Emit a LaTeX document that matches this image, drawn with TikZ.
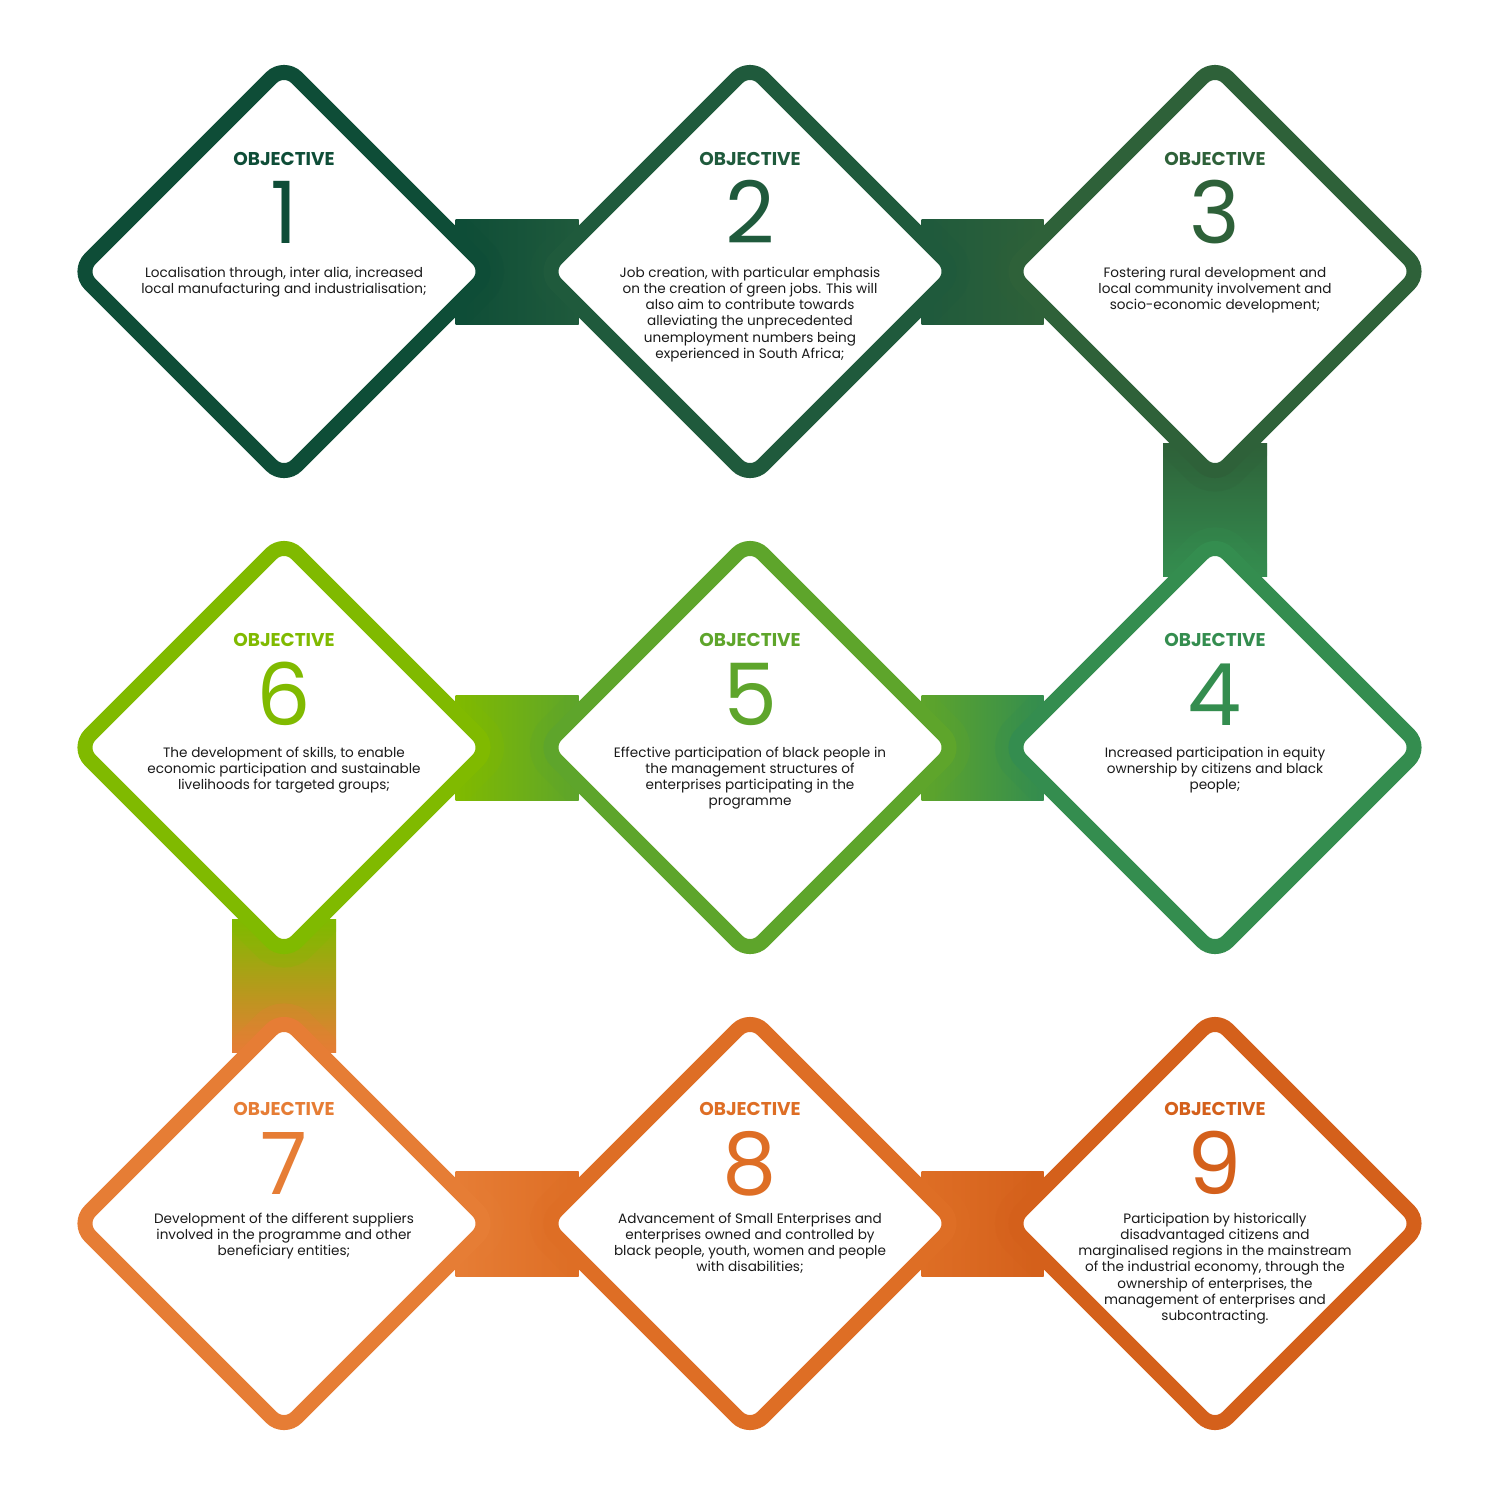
\documentclass[tikz,border=0pt]{standalone}
\usepackage{fontspec}
\setmainfont{Poppins}
\usetikzlibrary{shapes.geometric,backgrounds,calc}
\definecolor{c1}{HTML}{0E4D37}
\definecolor{c2}{HTML}{1F5A3C}
\definecolor{c3}{HTML}{2E6139}
\definecolor{c4}{HTML}{348D4F}
\definecolor{c5}{HTML}{5EA52B}
\definecolor{c6}{HTML}{80BA00}
\definecolor{c7}{HTML}{E67D35}
\definecolor{c8}{HTML}{DE6E25}
\definecolor{c9}{HTML}{D4601B}
\definecolor{txt}{HTML}{1A1A1A}
\tikzset{
  dia/.style={diamond, aspect=1, minimum width=413pt, minimum height=413pt,
    inner sep=0pt, outer sep=0pt, line width=15pt, rounded corners=18pt,
    fill=white, draw=#1},
  objlbl/.style={anchor=base, inner sep=0pt, text=#1,
    font=\bfseries\fontsize{18.5}{20}\selectfont},
  numlbl/.style={anchor=base, inner sep=0pt, text=#1,
    font=\fontsize{86}{90}\selectfont},
  bodylbl/.style={anchor=base, inner sep=0pt, text=txt,
    font=\fontsize{13.6}{16.3}\selectfont},
  glow/.style={draw=#1, line width=42pt, draw opacity=0.28, rounded corners=18pt},
  dpath/.style={insert path={($(#1.center)+(-206.5,0)$) -- ($(#1.center)+(0,-206.5)$)
    -- ($(#1.center)+(206.5,0)$) -- ($(#1.center)+(0,206.5)$) -- cycle}},
}
\newcommand{\bodytext}[1]{\begin{tabular}[t]{@{}c@{}}#1\end{tabular}}
\begin{document}
\begin{tikzpicture}[x=1pt,y=-1pt]
\useasboundingbox (0,0) rectangle (1500,1500);

% diamonds
\node[dia=c1] (d1) at (284,271.5) {};
\node[dia=c2] (d2) at (750,271.5) {};
\node[dia=c3] (d3) at (1215,271.5) {};
\node[dia=c6] (d6) at (284,747.5) {};
\node[dia=c5] (d5) at (750,747.5) {};
\node[dia=c4] (d4) at (1215,747.5) {};
\node[dia=c7] (d7) at (284,1223.5) {};
\node[dia=c8] (d8) at (750,1223.5) {};
\node[dia=c9] (d9) at (1215,1223.5) {};

% connector bars (behind)
\begin{pgfonlayer}{background}
\fill[white] (0,0) rectangle (1500,1500);
\coordinate (b12a) at ($(d1.east)+(-35,-52.5)$);
\coordinate (b12b) at ($(d2.west)+(35,52.5)$);
\coordinate (b23a) at ($(d2.east)+(-35,-52.5)$);
\coordinate (b23b) at ($(d3.west)+(35,52.5)$);
\coordinate (b34a) at ($(d3.south)+(-52,-35)$);
\coordinate (b34b) at ($(d4.north)+(52,35)$);
\coordinate (b54a) at ($(d5.east)+(-35,-52.5)$);
\coordinate (b54b) at ($(d4.west)+(35,52.5)$);
\coordinate (b65a) at ($(d6.east)+(-35,-52.5)$);
\coordinate (b65b) at ($(d5.west)+(35,52.5)$);
\coordinate (b67a) at ($(d6.south)+(-52,-35)$);
\coordinate (b67b) at ($(d7.north)+(52,35)$);
\coordinate (b78a) at ($(d7.east)+(-35,-52.5)$);
\coordinate (b78b) at ($(d8.west)+(35,52.5)$);
\coordinate (b89a) at ($(d8.east)+(-35,-52.5)$);
\coordinate (b89b) at ($(d9.west)+(35,52.5)$);

\shade[left color=c1, right color=c2] (b12a) rectangle (b12b);
\shade[left color=c2, right color=c3] (b23a) rectangle (b23b);
\shade[top color=c3, bottom color=c4] (b34a) rectangle (b34b);
\shade[left color=c5, right color=c4] (b54a) rectangle (b54b);
\shade[left color=c6, right color=c5] (b65a) rectangle (b65b);
\shade[top color=c6, bottom color=c7] (b67a) rectangle (b67b);
\shade[left color=c7, right color=c8] (b78a) rectangle (b78b);
\shade[left color=c8, right color=c9] (b89a) rectangle (b89b);

\begin{scope}\clip (b12a) rectangle (b12b);
  \draw[glow=c1] (d1.center) [dpath=d1]; \draw[glow=c2] (d2.center) [dpath=d2]; \end{scope}
\begin{scope}\clip (b23a) rectangle (b23b);
  \draw[glow=c2] (d2.center) [dpath=d2]; \draw[glow=c3] (d3.center) [dpath=d3]; \end{scope}
\begin{scope}\clip (b34a) rectangle (b34b);
  \draw[glow=c3] (d3.center) [dpath=d3]; \draw[glow=c4] (d4.center) [dpath=d4]; \end{scope}
\begin{scope}\clip (b54a) rectangle (b54b);
  \draw[glow=c5] (d5.center) [dpath=d5]; \draw[glow=c4] (d4.center) [dpath=d4]; \end{scope}
\begin{scope}\clip (b65a) rectangle (b65b);
  \draw[glow=c6] (d6.center) [dpath=d6]; \draw[glow=c5] (d5.center) [dpath=d5]; \end{scope}
\begin{scope}\clip (b67a) rectangle (b67b);
  \draw[glow=c6] (d6.center) [dpath=d6]; \draw[glow=c7] (d7.center) [dpath=d7]; \end{scope}
\begin{scope}\clip (b78a) rectangle (b78b);
  \draw[glow=c7] (d7.center) [dpath=d7]; \draw[glow=c8] (d8.center) [dpath=d8]; \end{scope}
\begin{scope}\clip (b89a) rectangle (b89b);
  \draw[glow=c8] (d8.center) [dpath=d8]; \draw[glow=c9] (d9.center) [dpath=d9]; \end{scope}
\end{pgfonlayer}

% row 1 texts
\node[objlbl=c1] (o1) at (284,165) {OBJECTIVE};
\node[objlbl=c2] (o2) at (750,165) {OBJECTIVE};
\node[objlbl=c3] (o3) at (1215,165) {OBJECTIVE};
\node[numlbl=c1] (n1) at (284,243) {1};
\node[numlbl=c2] (n2) at (750,243) {2};
\node[numlbl=c3] (n3) at (1215,243) {3};
\node[bodylbl] (t1) at (284,277) {\bodytext{Localisation through, inter alia, increased\\local manufacturing and industrialisation;}};
\node[bodylbl] (t2) at (750,277) {\bodytext{Job creation, with particular emphasis\\on the creation of green jobs. This will\\also aim to contribute towards\\alleviating the unprecedented\\unemployment numbers being\\experienced in South Africa;}};
\node[bodylbl] (t3) at (1215,277) {\bodytext{Fostering rural development and\\local community involvement and\\socio-economic development;}};

% row 2 texts
\node[objlbl=c6] (o6) at (284,646) {OBJECTIVE};
\node[objlbl=c5] (o5) at (750,646) {OBJECTIVE};
\node[objlbl=c4] (o4) at (1215,646) {OBJECTIVE};
\node[numlbl=c6] (n6) at (284,725) {6};
\node[numlbl=c5] (n5) at (750,725) {5};
\node[numlbl=c4] (n4) at (1215,725) {4};
\node[bodylbl] (t6) at (284,757) {\bodytext{The development of skills, to enable\\economic participation and sustainable\\livelihoods for targeted groups;}};
\node[bodylbl] (t5) at (750,757) {\bodytext{Effective participation of black people in\\the management structures of\\enterprises participating in the\\programme}};
\node[bodylbl] (t4) at (1215,757) {\bodytext{Increased participation in equity\\ownership by citizens and black\\people;}};

% row 3 texts
\node[objlbl=c7] (o7) at (284,1115) {OBJECTIVE};
\node[objlbl=c8] (o8) at (750,1115) {OBJECTIVE};
\node[objlbl=c9] (o9) at (1215,1115) {OBJECTIVE};
\node[numlbl=c7] (n7) at (284,1194) {7};
\node[numlbl=c8] (n8) at (750,1194) {8};
\node[numlbl=c9] (n9) at (1215,1194) {9};
\node[bodylbl] (t7) at (284,1223) {\bodytext{Development of the different suppliers\\involved in the programme and other\\beneficiary entities;}};
\node[bodylbl] (t8) at (750,1223) {\bodytext{Advancement of Small Enterprises and\\enterprises owned and controlled by\\black people, youth, women and people\\with disabilities;}};
\node[bodylbl] (t9) at (1215,1223) {\bodytext{Participation by historically\\disadvantaged citizens and\\marginalised regions in the mainstream\\of the industrial economy, through the\\ownership of enterprises, the\\management of enterprises and\\subcontracting.}};
\end{tikzpicture}
\end{document}
